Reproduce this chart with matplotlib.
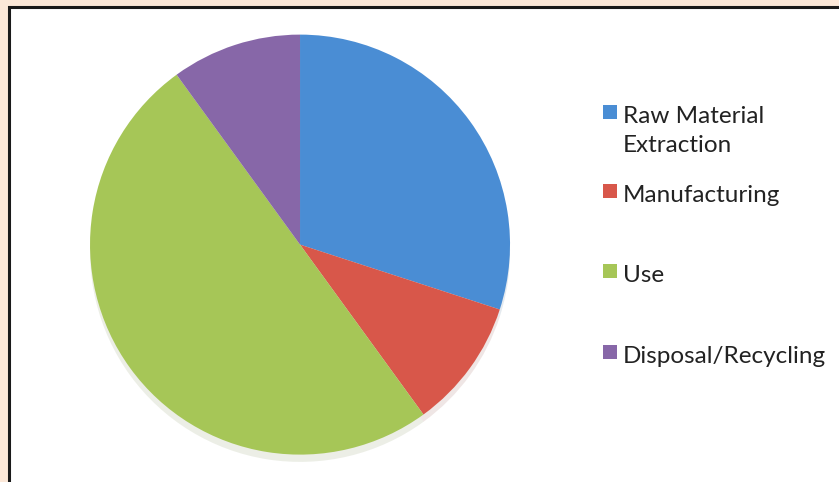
import matplotlib.pyplot as plt
from matplotlib.patches import Rectangle

labels = ["Raw Material\nExtraction", "Manufacturing", "Use", "Disposal/Recycling"]
values = [30, 10, 50, 10]
colors = ["#4a8dd4", "#d8574a", "#a6c657", "#8767a8"]

plt.rcParams['font.family'] = ['Lato', 'DejaVu Sans']

fig = plt.figure(figsize=(8.39, 4.82), dpi=100)
fig.patch.set_facecolor("#fce8d8")

# white panel with dark border (runs off right / bottom edges)
fig.patches.append(Rectangle((9 / 839, -0.1), 1.0, 1 - 7 / 482 + 0.1,
                             transform=fig.transFigure, facecolor="white",
                             edgecolor="#1a1a1a", linewidth=2.2, zorder=-5))

ax = fig.add_axes([0.1073, 0.0394, 0.5006, 0.8888])
ax.set_zorder(2)
ax.pie(values, colors=colors, startangle=90, counterclock=False,
       wedgeprops=dict(linewidth=0),
       shadow=dict(ox=0, oy=-0.025, shade=0.4, alpha=0.12))
ax.set_xlim(-1, 1)
ax.set_ylim(-1.04, 1)
ax.set_aspect('auto')
ax.axis('off')

# legend drawn by hand
ys = [112, 191, 271, 352]
for lab, col, y in zip(labels, colors, ys):
    fig.patches.append(Rectangle((603 / 839, 1 - (y + 7) / 482), 14 / 839, 14 / 482,
                                 transform=fig.transFigure, facecolor=col,
                                 edgecolor="none"))
    fig.text(623 / 839, 1 - (y - 6) / 482, lab, fontsize=17.5, color="#222222",
             va='top', ha='left', linespacing=1.45)

fig.savefig("out.png", dpi=100, facecolor=fig.get_facecolor())
